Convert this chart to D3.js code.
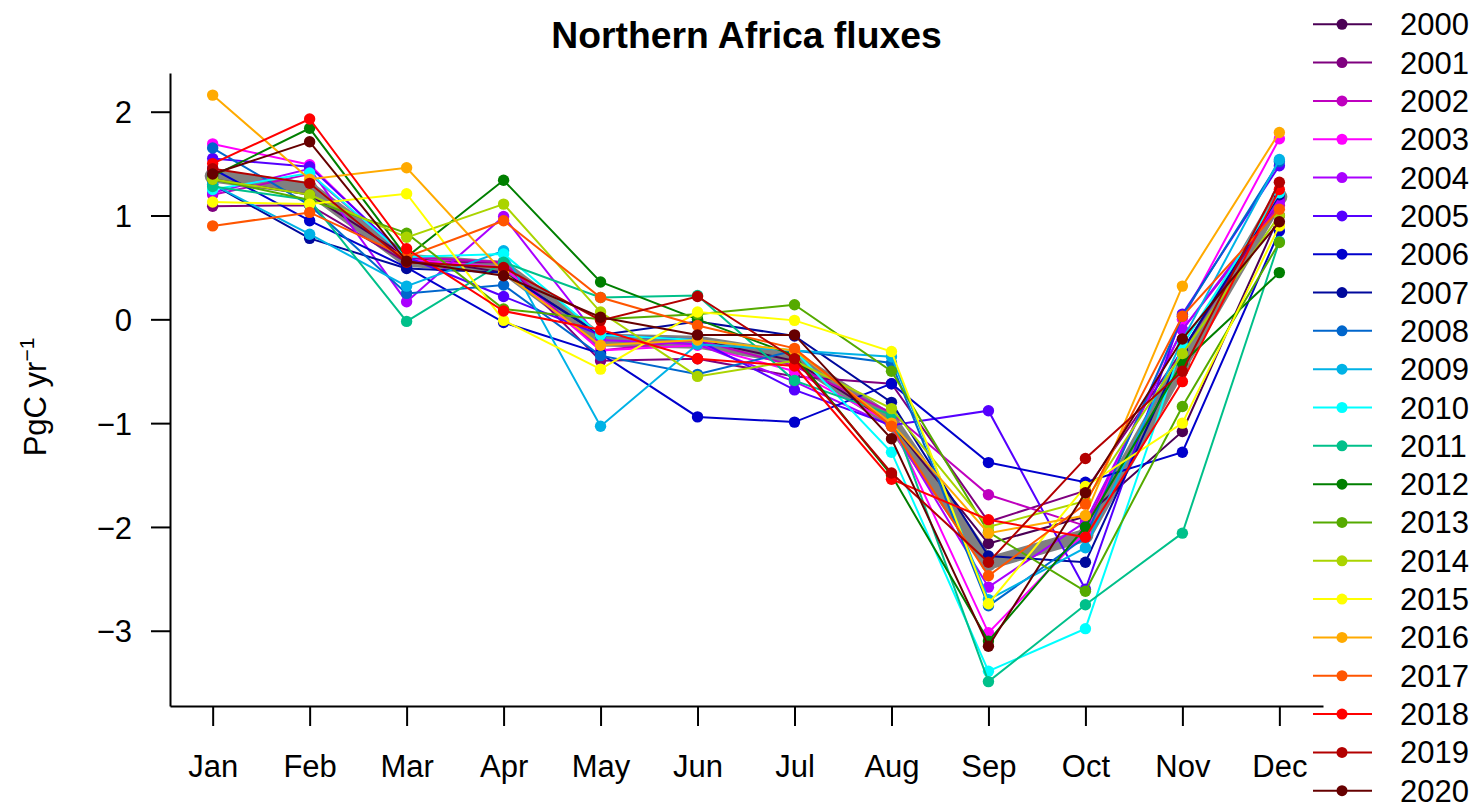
<!DOCTYPE html>
<html>
<head>
<meta charset="utf-8">
<script src="https://cdn.jsdelivr.net/npm/d3@7"></script>
<style>
  html, body { margin: 0; padding: 0; background: #fff; }
  svg { display: block; font-family: "Liberation Sans", Arial, Helvetica, sans-serif; }
</style>
</head>
<body>
<svg id="chart" width="1476" height="808"></svg>
<script>
const months = ["Jan","Feb","Mar","Apr","May","Jun","Jul","Aug","Sep","Oct","Nov","Dec"];
const years = ["2000","2001","2002","2003","2004","2005","2006","2007","2008","2009","2010",
               "2011","2012","2013","2014","2015","2016","2017","2018","2019","2020"];
const colors = ["#4B0055","#7F007F","#BF00BF","#FF00FF","#AA00FF","#5500FF","#0000CC","#00099C",
                "#0066CC","#00B2E6","#00FFFF","#00C08A","#007F00","#55AA00","#AAD400","#FFFF00",
                "#FFAA00","#FF5500","#FF0000","#B30000","#660000"];
const yTicks = [2, 1, 0, -1, -2, -3];

// monthly fluxes per year (PgC/yr)
const v2000 = [1.35, 1.20, 0.60, 0.45, -0.15, -0.20, -0.40, -1.00, -2.16, -1.90, -1.08, 1.00];
const v2001 = [1.09, 1.10, 0.55, 0.55, -0.40, -0.38, -0.55, -0.62, -1.95, -1.65, -0.30, 1.15];
const v2002 = [1.20, 1.40, 0.60, 0.55, -0.30, -0.20, -0.45, -0.90, -1.69, -1.99, -0.10, 1.10];
const v2003 = [1.69, 1.49, 0.58, 0.50, -0.30, -0.25, -0.50, -1.00, -3.02, -2.05, 0.00, 1.74];
const v2004 = [1.22, 1.45, 0.17, 0.99, -0.20, -0.24, -0.60, -1.03, -2.58, -1.95, -0.10, 1.14];
const v2005 = [1.55, 1.47, 0.60, 0.22, -0.15, -0.20, -0.68, -1.02, -0.88, -2.60, 0.05, 1.48];
const v2006 = [1.45, 0.95, 0.50, -0.03, -0.33, -0.94, -0.99, -0.62, -1.38, -1.57, -1.28, 0.85];
const v2007 = [1.30, 0.78, 0.49, 0.45, -0.15, -0.02, -0.16, -0.80, -2.28, -2.34, -0.30, 1.20];
const v2008 = [1.65, 1.10, 0.25, 0.33, -0.35, -0.53, -0.30, -0.42, -2.76, -2.10, 0.03, 1.52];
const v2009 = [1.30, 0.82, 0.32, 0.66, -1.03, -0.24, -0.30, -0.36, -2.70, -2.20, -0.20, 1.54];
const v2010 = [1.25, 1.41, 0.60, 0.63, -0.15, -0.20, -0.30, -1.28, -3.39, -2.98, -0.25, 1.22];
const v2011 = [1.28, 1.15, -0.02, 0.55, 0.21, 0.23, -0.59, -0.92, -3.49, -2.75, -2.06, 0.75];
const v2012 = [1.38, 1.84, 0.60, 1.34, 0.36, 0.00, -0.35, -1.50, -3.10, -2.00, -0.42, 0.45];
const v2013 = [1.35, 1.15, 0.83, 0.10, 0.00, 0.05, 0.14, -0.50, -2.05, -2.62, -0.84, 0.74];
const v2014 = [1.35, 1.20, 0.79, 1.11, 0.07, -0.55, -0.40, -0.86, -2.00, -1.75, -0.33, 1.00];
const v2015 = [1.13, 1.11, 1.21, -0.01, -0.48, 0.07, -0.01, -0.31, -2.74, -1.61, -1.00, 0.90];
const v2016 = [2.16, 1.35, 1.46, 0.45, -0.25, -0.20, -0.30, -1.00, -2.06, -1.89, 0.32, 1.80];
const v2017 = [0.90, 1.03, 0.60, 0.95, 0.21, -0.06, -0.28, -1.03, -2.47, -1.78, 0.03, 1.06];
const v2018 = [1.50, 1.93, 0.68, 0.08, -0.10, -0.38, -0.45, -1.54, -1.93, -2.10, -0.60, 1.25];
const v2019 = [1.45, 1.31, 0.55, 0.50, -0.01, 0.22, -0.38, -1.48, -2.34, -1.34, -0.50, 1.32];
const v2020 = [1.40, 1.71, 0.56, 0.42, 0.02, -0.15, -0.15, -1.15, -3.15, -1.67, -0.19, 0.94];
// multi-year mean (thick grey line)
const meanValues = [1.38, 1.26, 0.57, 0.50, -0.20, -0.22, -0.37, -0.98, -2.35, -2.08, -0.42, 1.18];

const series = [v2000,v2001,v2002,v2003,v2004,v2005,v2006,v2007,v2008,v2009,v2010,
                v2011,v2012,v2013,v2014,v2015,v2016,v2017,v2018,v2019,v2020];

const svg = d3.select("#chart");
const FS = 31;

const x = d3.scaleLinear().domain([-0.44, 11.45]).range([170, 1323]);
const y = d3.scaleLinear().domain([-3.725, 2.373]).range([706, 73]);

// title
svg.append("text").attr("x", 746.5).attr("y", 48).attr("text-anchor", "middle")
  .attr("font-size", 37.3).attr("font-weight", "bold").text("Northern Africa fluxes");

// y label
const yl = svg.append("text").attr("transform", "translate(46,397) rotate(-90)")
  .attr("text-anchor", "middle").attr("font-size", FS);
yl.append("tspan").text("PgC yr");
yl.append("tspan").attr("dy", -12).attr("font-size", 21).text("\u22121");

// axes
const yAxis = d3.axisLeft(y).tickValues(yTicks).tickSize(19).tickSizeOuter(0).tickPadding(19)
  .tickFormat(d => d < 0 ? "\u2212" + Math.abs(d) : String(d));
const gy = svg.append("g").attr("transform", "translate(170,0)").call(yAxis);
gy.selectAll("text").attr("font-size", FS).attr("font-family", null).attr("dy", "0.36em");

const xAxis = d3.axisBottom(x).tickValues(d3.range(12)).tickSize(20).tickSizeOuter(0).tickPadding(29)
  .tickFormat(i => months[i]);
const gx = svg.append("g").attr("transform", "translate(0,706)").call(xAxis);
gx.selectAll("text").attr("font-size", FS).attr("font-family", null);

[gx, gy].forEach(g => {
  g.selectAll("path.domain").attr("stroke-width", 2);
  g.selectAll(".tick line").attr("stroke-width", 2);
});

const line = d3.line().x((d, i) => x(i)).y(d => y(d));

// mean grey line
svg.append("path").datum(meanValues).attr("d", line).attr("fill", "none")
  .attr("stroke", "#808080").attr("stroke-width", 13).attr("stroke-linejoin", "round");
svg.append("g").selectAll("circle").data(meanValues).join("circle")
  .attr("cx", (d, i) => x(i)).attr("cy", d => y(d)).attr("r", 8).attr("fill", "#808080");

// years
series.forEach((vals, k) => {
  const g = svg.append("g");
  g.append("path").datum(vals).attr("d", line).attr("fill", "none")
    .attr("stroke", colors[k]).attr("stroke-width", 2);
  g.selectAll("circle").data(vals).join("circle")
    .attr("cx", (d, i) => x(i)).attr("cy", d => y(d)).attr("r", 5.7).attr("fill", colors[k]);
});

// legend
const lg = svg.append("g");
years.forEach((yr, k) => {
  const cy = 24.3 + k * 38.32;
  lg.append("line").attr("x1", 1313).attr("x2", 1372).attr("y1", cy).attr("y2", cy)
    .attr("stroke", colors[k]).attr("stroke-width", 2);
  lg.append("circle").attr("cx", 1342).attr("cy", cy).attr("r", 5.5).attr("fill", colors[k]);
  lg.append("text").attr("x", 1400).attr("y", cy + 11).attr("font-size", FS).text(yr);
});
</script>
</body>
</html>
